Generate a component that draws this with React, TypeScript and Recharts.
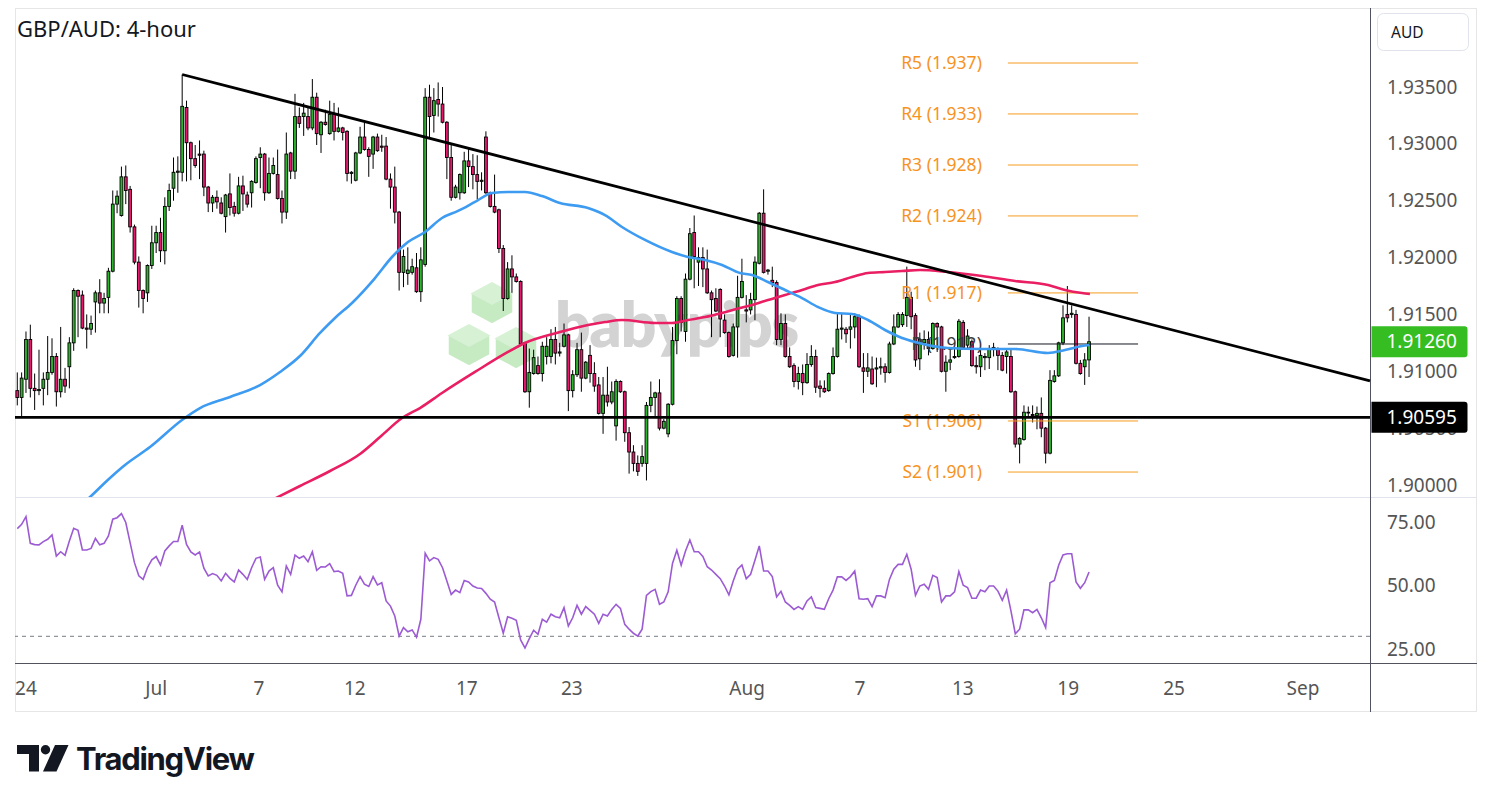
import React from 'react';
import { ComposedChart, Bar, Line, XAxis, YAxis, ReferenceLine } from 'recharts';

const FONT = "'Noto Sans', 'DejaVu Sans', sans-serif";
const UP = '#2cb52c';
const DOWN = '#e8186d';

// ---- GBP/AUD 4-hour candles ----
const opens = [
  1.9083,1.9077,1.9093,1.9128,1.9085,1.9083,1.9085,1.9093,1.9099,1.9113,
  1.9082,1.9093,1.9104,1.9125,1.9171,1.9167,1.9138,1.9137,1.9161,1.9169,
  1.9160,1.9165,1.9188,1.9247,1.9237,1.9271,1.9260,1.9227,1.9196,1.9171,
  1.9169,1.9193,1.9213,1.9222,1.9206,1.9245,1.9261,1.9275,1.9275,1.9332,
  1.9301,1.9287,1.9291,1.9291,1.9262,1.9248,1.9253,1.9248,1.9236,1.9256,
  1.9245,1.9239,1.9263,1.9255,1.9257,1.9266,1.9288,1.9291,1.9257,1.9274,
  1.9273,1.9252,1.9240,1.9292,1.9276,1.9324,1.9324,1.9324,1.9314,1.9341,
  1.9308,1.9319,1.9309,1.9326,1.9311,1.9314,1.9311,1.9274,1.9268,1.9292,
  1.9306,1.9295,1.9291,1.9306,1.9298,1.9298,1.9269,1.9262,1.9240,1.9187,
  1.9186,1.9187,1.9191,1.9170,1.9194,1.9341,1.9325,1.9339,1.9335,1.9319,
  1.9288,1.9253,1.9257,1.9257,1.9285,1.9280,1.9273,1.9267,1.9306,1.9257,
  1.9245,1.9242,1.9208,1.9164,1.9190,1.9183,1.9179,1.9125,1.9082,1.9098,
  1.9105,1.9098,1.9113,1.9113,1.9128,1.9116,1.9122,1.9132,1.9083,1.9097,
  1.9119,1.9094,1.9114,1.9098,1.9088,1.9063,1.9079,1.9073,1.9052,1.9091,
  1.9082,1.9046,1.9029,1.9019,1.9019,1.9019,1.9070,1.9077,1.9081,1.9050,
  1.9045,1.9071,1.9127,1.9164,1.9135,1.9181,1.9222,1.9196,1.9200,1.9190,
  1.9169,1.9164,1.9172,1.9145,1.9134,1.9114,1.9139,1.9165,1.9154,1.9154,
  1.9163,1.9195,1.9239,1.9188,1.9180,1.9178,1.9128,1.9142,1.9113,1.9105,
  1.9091,1.9098,1.9090,1.9106,1.9113,1.9087,1.9085,1.9083,1.9098,1.9113,
  1.9137,1.9137,1.9137,1.9139,1.9148,1.9103,1.9100,1.9102,1.9102,1.9103,
  1.9104,1.9099,1.9124,1.9139,1.9141,1.9149,1.9165,1.9149,1.9111,1.9125,
  1.9128,1.9120,1.9142,1.9139,1.9100,1.9108,1.9112,1.9113,1.9143,1.9123,
  1.9126,1.9105,1.9104,1.9112,1.9112,1.9120,1.9120,1.9114,1.9113,1.9113,
  1.9082,1.9036,1.9040,1.9064,1.9062,1.9061,1.9063,1.9050,1.9028,1.9091,
  1.9096,1.9125,1.9150,1.9150,1.9150,1.9107,1.9104,1.9110,
];
const highs = [
  1.9099,1.9099,1.9135,1.9141,1.9098,1.9119,1.9099,1.9131,1.9129,1.9116,
  1.9139,1.9103,1.9130,1.9173,1.9172,1.9171,1.9150,1.9149,1.9171,1.9181,
  1.9169,1.9191,1.9259,1.9259,1.9280,1.9281,1.9263,1.9229,1.9201,1.9172,
  1.9194,1.9228,1.9228,1.9235,1.9253,1.9265,1.9288,1.9289,1.9361,1.9338,
  1.9302,1.9299,1.9303,1.9294,1.9263,1.9255,1.9259,1.9253,1.9256,1.9274,
  1.9249,1.9271,1.9272,1.9258,1.9268,1.9289,1.9297,1.9292,1.9288,1.9288,
  1.9295,1.9259,1.9310,1.9293,1.9344,1.9332,1.9336,1.9332,1.9357,1.9345,
  1.9320,1.9330,1.9338,1.9336,1.9332,1.9315,1.9312,1.9276,1.9293,1.9315,
  1.9319,1.9297,1.9307,1.9309,1.9308,1.9306,1.9274,1.9280,1.9241,1.9207,
  1.9209,1.9199,1.9204,1.9209,1.9349,1.9352,1.9349,1.9354,1.9350,1.9320,
  1.9300,1.9264,1.9274,1.9293,1.9297,1.9291,1.9290,1.9275,1.9311,1.9258,
  1.9273,1.9243,1.9211,1.9196,1.9202,1.9186,1.9180,1.9126,1.9120,1.9119,
  1.9113,1.9126,1.9130,1.9137,1.9139,1.9125,1.9142,1.9133,1.9101,1.9125,
  1.9134,1.9109,1.9123,1.9108,1.9095,1.9095,1.9104,1.9091,1.9093,1.9092,
  1.9083,1.9051,1.9035,1.9026,1.9035,1.9073,1.9091,1.9082,1.9093,1.9058,
  1.9072,1.9139,1.9166,1.9166,1.9186,1.9226,1.9237,1.9209,1.9209,1.9207,
  1.9171,1.9173,1.9173,1.9150,1.9135,1.9142,1.9184,1.9199,1.9167,1.9169,
  1.9201,1.9240,1.9260,1.9190,1.9192,1.9180,1.9151,1.9150,1.9121,1.9107,
  1.9104,1.9106,1.9116,1.9123,1.9119,1.9092,1.9092,1.9099,1.9121,1.9151,
  1.9151,1.9139,1.9151,1.9151,1.9150,1.9116,1.9116,1.9113,1.9112,1.9112,
  1.9107,1.9126,1.9150,1.9152,1.9152,1.9192,1.9170,1.9151,1.9134,1.9136,
  1.9135,1.9143,1.9143,1.9140,1.9114,1.9119,1.9120,1.9146,1.9145,1.9137,
  1.9128,1.9113,1.9119,1.9116,1.9123,1.9125,1.9121,1.9117,1.9120,1.9119,
  1.9083,1.9042,1.9070,1.9069,1.9070,1.9069,1.9077,1.9051,1.9101,1.9101,
  1.9126,1.9158,1.9175,1.9158,1.9154,1.9110,1.9116,1.9148,
];
const lows = [
  1.9070,1.9059,1.9081,1.9077,1.9066,1.9079,1.9070,1.9079,1.9097,1.9069,
  1.9077,1.9081,1.9085,1.9118,1.9130,1.9137,1.9120,1.9132,1.9134,1.9151,
  1.9151,1.9151,1.9187,1.9239,1.9236,1.9247,1.9222,1.9194,1.9156,1.9151,
  1.9161,1.9190,1.9204,1.9196,1.9194,1.9241,1.9250,1.9257,1.9267,1.9267,
  1.9268,1.9279,1.9269,1.9254,1.9240,1.9240,1.9243,1.9238,1.9222,1.9237,
  1.9236,1.9238,1.9241,1.9244,1.9244,1.9265,1.9261,1.9250,1.9256,1.9273,
  1.9251,1.9230,1.9234,1.9269,1.9269,1.9314,1.9307,1.9312,1.9312,1.9299,
  1.9292,1.9316,1.9308,1.9303,1.9310,1.9303,1.9267,1.9265,1.9267,1.9291,
  1.9294,1.9271,1.9278,1.9293,1.9293,1.9268,1.9243,1.9230,1.9171,1.9174,
  1.9176,1.9185,1.9169,1.9161,1.9192,1.9306,1.9310,1.9324,1.9318,1.9269,
  1.9250,1.9252,1.9251,1.9256,1.9262,1.9260,1.9251,1.9259,1.9256,1.9244,
  1.9239,1.9204,1.9153,1.9163,1.9169,1.9178,1.9123,1.9081,1.9068,1.9097,
  1.9097,1.9091,1.9106,1.9107,1.9106,1.9113,1.9121,1.9065,1.9077,1.9095,
  1.9082,1.9093,1.9090,1.9082,1.9062,1.9045,1.9069,1.9071,1.9039,1.9081,
  1.9038,1.9010,1.9012,1.9008,1.9016,1.9004,1.9064,1.9059,1.9048,1.9049,
  1.9042,1.9070,1.9115,1.9135,1.9126,1.9180,1.9173,1.9175,1.9174,1.9168,
  1.9130,1.9152,1.9130,1.9133,1.9112,1.9113,1.9112,1.9164,1.9143,1.9150,
  1.9145,1.9194,1.9186,1.9185,1.9174,1.9123,1.9123,1.9112,1.9103,1.9086,
  1.9084,1.9079,1.9089,1.9104,1.9081,1.9077,1.9081,1.9082,1.9097,1.9112,
  1.9128,1.9125,1.9120,1.9129,1.9103,1.9081,1.9095,1.9088,1.9086,1.9097,
  1.9090,1.9098,1.9123,1.9138,1.9139,1.9139,1.9137,1.9104,1.9101,1.9119,
  1.9114,1.9119,1.9117,1.9099,1.9082,1.9101,1.9111,1.9112,1.9120,1.9119,
  1.9104,1.9098,1.9095,1.9101,1.9102,1.9113,1.9101,1.9100,1.9098,1.9081,
  1.9033,1.9019,1.9039,1.9059,1.9055,1.9049,1.9042,1.9019,1.9027,1.9090,
  1.9095,1.9123,1.9143,1.9147,1.9106,1.9097,1.9088,1.9095,
];
const closes = [
  1.9077,1.9094,1.9128,1.9085,1.9083,1.9084,1.9093,1.9099,1.9113,1.9082,
  1.9093,1.9087,1.9125,1.9171,1.9166,1.9138,1.9137,1.9142,1.9169,1.9160,
  1.9164,1.9188,1.9247,1.9254,1.9271,1.9259,1.9227,1.9196,1.9171,1.9164,
  1.9193,1.9213,1.9222,1.9206,1.9245,1.9259,1.9275,1.9276,1.9333,1.9301,
  1.9287,1.9281,1.9290,1.9262,1.9248,1.9253,1.9249,1.9239,1.9255,1.9244,
  1.9239,1.9263,1.9256,1.9247,1.9267,1.9287,1.9291,1.9257,1.9274,1.9281,
  1.9252,1.9240,1.9291,1.9276,1.9324,1.9318,1.9327,1.9314,1.9341,1.9309,
  1.9319,1.9317,1.9326,1.9311,1.9314,1.9310,1.9274,1.9275,1.9292,1.9306,
  1.9295,1.9289,1.9306,1.9294,1.9297,1.9269,1.9262,1.9240,1.9187,1.9201,
  1.9189,1.9192,1.9170,1.9198,1.9341,1.9324,1.9338,1.9335,1.9319,1.9288,
  1.9253,1.9262,1.9273,1.9285,1.9280,1.9273,1.9267,1.9268,1.9257,1.9245,
  1.9240,1.9208,1.9164,1.9190,1.9183,1.9179,1.9124,1.9082,1.9099,1.9112,
  1.9098,1.9122,1.9122,1.9128,1.9116,1.9117,1.9132,1.9083,1.9097,1.9119,
  1.9094,1.9108,1.9098,1.9087,1.9063,1.9079,1.9073,1.9082,1.9091,1.9082,
  1.9046,1.9029,1.9019,1.9012,1.9025,1.9070,1.9077,1.9081,1.9050,1.9056,
  1.9071,1.9127,1.9164,1.9143,1.9181,1.9221,1.9201,1.9200,1.9190,1.9169,
  1.9163,1.9153,1.9146,1.9134,1.9113,1.9139,1.9165,1.9179,1.9153,1.9163,
  1.9196,1.9239,1.9187,1.9189,1.9178,1.9128,1.9142,1.9113,1.9104,1.9091,
  1.9098,1.9090,1.9106,1.9113,1.9086,1.9085,1.9082,1.9098,1.9113,1.9137,
  1.9138,1.9133,1.9139,1.9148,1.9104,1.9100,1.9103,1.9089,1.9103,1.9104,
  1.9099,1.9124,1.9139,1.9150,1.9150,1.9165,1.9148,1.9110,1.9128,1.9128,
  1.9120,1.9142,1.9139,1.9100,1.9108,1.9110,1.9113,1.9144,1.9121,1.9131,
  1.9105,1.9104,1.9114,1.9113,1.9120,1.9121,1.9114,1.9101,1.9117,1.9082,
  1.9036,1.9041,1.9064,1.9064,1.9061,1.9063,1.9050,1.9028,1.9092,1.9096,
  1.9125,1.9147,1.9147,1.9151,1.9107,1.9098,1.9110,1.9126,
];

// ---- RSI (one value per candle) ----
const rsiValues = [
  72.4,74.1,77.1,66.6,66.1,66.0,67.3,68.2,69.9,61.6,
  63.3,61.9,67.5,72.5,71.7,64.0,64.0,64.6,68.5,66.0,
  66.6,69.5,76.1,76.7,78.3,74.8,66.9,59.0,53.8,52.4,
  57.0,60.1,61.4,58.1,63.6,65.6,67.3,67.3,73.7,66.2,
  63.2,62.0,63.2,56.8,53.8,54.7,54.0,51.8,54.8,52.8,
  51.4,56.1,54.4,52.4,57.0,60.7,61.2,52.4,55.7,57.0,
  50.1,47.5,57.7,54.4,62.0,60.7,61.6,59.4,63.3,56.0,
  57.4,57.3,58.6,55.5,55.7,54.8,45.9,46.1,50.1,53.5,
  50.5,49.6,53.5,50.2,51.1,43.9,41.9,38.0,30.1,33.4,
  31.8,32.5,29.7,36.7,62.7,59.7,61.0,60.3,57.0,51.8,
  46.5,48.2,47.2,52.0,51.4,49.8,49.0,48.8,46.9,44.6,
  43.5,37.3,31.2,37.7,37.1,36.3,28.6,25.4,29.1,32.4,
  30.8,36.7,35.6,38.7,
  37.7,37.3,41.3,34.1,37.3,42.2,38.7,41.7,40.2,38.7,
  35.1,38.7,38.0,40.6,42.6,41.0,34.7,32.8,31.2,30.1,
  32.8,46.1,47.6,48.5,42.6,43.5,47.5,58.7,63.9,58.0,
  63.6,67.9,63.3,63.3,61.4,57.4,56.1,54.4,52.7,49.8,
  46.3,51.8,56.4,58.1,52.7,54.4,59.9,65.6,55.7,55.7,
  53.5,45.5,47.7,43.5,42.2,40.6,41.7,40.6,43.9,45.5,
  41.3,41.0,40.6,44.8,48.2,53.4,53.4,52.0,53.5,55.7,
  44.8,44.6,44.8,41.7,45.9,45.9,45.2,52.4,56.4,58.3,
  58.3,62.3,56.4,46.1,49.8,50.5,48.5,54.0,53.1,43.5,
  45.9,45.9,47.5,55.5,50.1,49.2,45.0,45.0,48.2,47.5,
  49.8,49.8,47.8,44.2,48.2,40.0,31.0,32.8,40.4,40.4,
  39.3,40.6,37.3,33.4,51.1,52.0,58.0,62.0,62.5,62.5,
  51.4,48.9,51.1,55.3,
];

// ---- Moving averages (positions in candle index units, values in price) ----
const blueMaIndex = [13.3,16.75,21.36,24.82,30.58,37.96,42.11,49.02,55.94,60.55,65.15,69.77,73.22,77.14,82.44,86.36,90.04,93.96,97.88,101.57,105.48,109.4,113.09,117.0,120.92,125.07,131.52,135.44,139.36,144.66,150.88,154.57,158.49,162.41,166.56,169.33,173.0,176.93,180.85,184.53,188.45,192.37,196.06,199.98,203.9,206.89,214.5,222.33,229.94,237.54,241.46,245.38,247.0];
const blueMaValues = [1.89771,1.89894,1.90062,1.90176,1.90334,1.90572,1.90677,1.90774,1.90879,1.90994,1.91134,1.91337,1.91469,1.91601,1.91820,1.92005,1.92137,1.92225,1.92348,1.92410,1.92489,1.92568,1.92577,1.92577,1.92541,1.92480,1.92436,1.92374,1.92269,1.92155,1.92049,1.92005,1.91979,1.91935,1.91864,1.91847,1.91785,1.91715,1.91644,1.91565,1.91513,1.91504,1.91451,1.91363,1.91293,1.91258,1.91205,1.91196,1.91196,1.91161,1.91187,1.91222,1.91231];
const pinkMaIndex = [58.7,65.15,72.07,78.98,83.59,88.66,92.81,97.88,105.48,113.09,117.0,125.07,131.52,135.44,139.36,146.97,150.88,154.57,158.49,162.41,166.56,169.33,173.0,176.93,180.85,184.53,188.45,192.37,196.06,199.98,203.9,208.05,214.5,222.33,229.94,237.54,241.46,245.38,247.2];
const pinkMaValues = [1.89868,1.89991,1.90123,1.90273,1.90422,1.90589,1.90677,1.90809,1.90994,1.91170,1.91249,1.91345,1.91407,1.91433,1.91451,1.91425,1.91425,1.91451,1.91477,1.91513,1.91557,1.91583,1.91627,1.91671,1.91715,1.91759,1.91785,1.91829,1.91864,1.91873,1.91882,1.91891,1.91873,1.91838,1.91794,1.91759,1.91715,1.91688,1.91680];

// ---- Drawings ----
const trendIndex = [38, 311.75];
const trendValues = [1.9361, 1.90915];
const supportLevel = 1.90595;
const pivotNames = ['R5', 'R4', 'R3', 'R2', 'R1', 'P', 'S1', 'S2'];
const pivotLevels = [1.93711, 1.93263, 1.92814, 1.92366, 1.91689, 1.9124, 1.90563, 1.90114];
const pivotStart = 228.3;
const pivotEnd = 258.3;

// ---- Axes ----
const priceTicks = [1.9, 1.905, 1.91, 1.915, 1.92, 1.925, 1.93, 1.935];
const rsiTicks = [25, 50, 75];
const rsiLower = 30;
const dateTickIndex = [2.0, 32.0, 55.7, 77.8, 103.6, 127.8, 168.2, 194.2, 217.9, 242.2, 266.6, 296.3];
const dateTickLabels = ['24', 'Jul', '7', '12', '17', '23', 'Aug', '7', '13', '19', '25', 'Sep'];
const X_DOMAIN: [number, number] = [-0.53, 311.75];
const PRICE_DOMAIN: [number, number] = [1.898945, 1.941947];
const RSI_DOMAIN: [number, number] = [19.49, 84.84];

const Candle = (props: any) => {
  const { x, y, width, height, payload } = props;
  if (payload == null || x == null || y == null) return null;
  const top = Math.min(y, y + height);
  const h = Math.abs(height);
  const span = payload.high - payload.low;
  const toY = (v: number) => (span > 0 ? top + ((payload.high - v) / span) * h : top);
  const cx = x + width / 2;
  const yo = toY(payload.open);
  const yc = toY(payload.close);
  const bt = Math.min(yo, yc);
  const bh = Math.max(Math.abs(yo - yc), 0.8);
  const up = payload.close >= payload.open;
  return (
    <g>
      <line x1={cx} x2={cx} y1={top} y2={top + h} stroke="#000" strokeWidth={1} />
      <rect x={cx - 1.4} y={bt} width={2.8} height={bh} fill={up ? UP : DOWN} stroke="#000" strokeWidth={0.9} />
    </g>
  );
};

const PriceTick = (props: any) => {
  const { y, payload } = props;
  return (
    <text x={1372} y={y + 6.6} fill="#555" fontSize={19} fontFamily={FONT}>
      {Number(payload.value).toFixed(5)}
    </text>
  );
};

const RsiTick = (props: any) => {
  const { y, payload } = props;
  return (
    <text x={1372} y={y + 6.6} fill="#555" fontSize={19} fontFamily={FONT}>
      {Number(payload.value).toFixed(2)}
    </text>
  );
};

const DateTick = (props: any) => {
  const { x, payload } = props;
  const k = dateTickIndex.indexOf(payload.value);
  return (
    <text x={x} y={198} textAnchor="middle" fill="#555" fontSize={19} fontFamily={FONT}>
      {dateTickLabels[k]}
    </text>
  );
};

const PriceBadge = (props: any) => {
  const { viewBox, text, bg } = props;
  if (!viewBox) return null;
  const x0 = viewBox.x + viewBox.width + 1.5;
  const yc = viewBox.y;
  return (
    <g>
      <path d={`M${x0},${yc - 15.5} H${x0 + 93} a3,3 0 0 1 3,3 V${yc + 12.5} a3,3 0 0 1 -3,3 H${x0} Z`} fill={bg} />
      <text x={x0 + 15} y={yc + 6.6} fill="#fff" fontSize={19} fontFamily={FONT}>{text}</text>
    </g>
  );
};

const PivotLabel = (props: any) => {
  const { viewBox, text, color } = props;
  if (!viewBox) return null;
  return (
    <text x={viewBox.x - 26} y={viewBox.y + 6.2} textAnchor="end" fill={color} fontSize={17.5} fontFamily={FONT}>
      {text}
    </text>
  );
};

const cube = (cx: number, top: number, key: string) => {
  const w = 21.5;
  const side = `${cx},${top} ${cx + w},${top + 11.5} ${cx + w},${top + 31} ${cx},${top + 42.5} ${cx - w},${top + 31} ${cx - w},${top + 11.5}`;
  const face = `${cx},${top} ${cx + w},${top + 11.5} ${cx},${top + 23} ${cx - w},${top + 11.5}`;
  return (
    <g key={key}>
      <polygon points={side} fill="#c6eac2" stroke="#fff" strokeWidth={2.5} />
      <polygon points={face} fill="#d6f1d3" />
    </g>
  );
};

export default function App() {
  const candles = opens.map((o, i) => ({
    i,
    open: o,
    high: highs[i],
    low: lows[i],
    close: closes[i],
    range: [lows[i], highs[i]],
  }));
  const rsiData = rsiValues.map((v, i) => ({ i, rsi: v }));
  const blueMa = blueMaIndex.map((x, k) => ({ i: x, v: blueMaValues[k] }));
  const pinkMa = pinkMaIndex.map((x, k) => ({ i: x, v: pinkMaValues[k] }));
  const lastClose = closes[closes.length - 1];

  return (
    <div style={{ position: 'absolute', left: 0, top: 0, width: 1491, height: 802, background: '#fff', overflow: 'hidden', fontFamily: FONT }}>
      <svg width={1491} height={802} style={{ position: 'absolute', left: 0, top: 0 }}>
        <rect x={15.5} y={8.5} width={1461} height={703} fill="none" stroke="#e6e6e6" />
        <line x1={15} x2={1477} y1={497.5} y2={497.5} stroke="#e0e3eb" />
        <line x1={15} x2={1477} y1={663.5} y2={663.5} stroke="#50535e" />
        <line x1={1370.5} x2={1370.5} y1={8} y2={712} stroke="#50535e" />
        <rect x={1377.5} y={13.5} width={91} height={37} rx={6} fill="#fff" stroke="#e0e3eb" />
        <text x={1391} y={37.5} fontSize={15.5} fill="#131722" fontFamily={FONT}>AUD</text>
        <text x={17} y={37} fontSize={22} fill="#131722" fontFamily={FONT}>GBP/AUD: 4-hour</text>
        {/* watermark */}
        {cube(492, 282, 'c1')}
        {cube(469, 324, 'c2')}
        {cube(516, 327, 'c3')}
        <text x={555} y={347} fontSize={62} fontWeight={800} fill="#d3d3d3" fontFamily="Lato, 'Noto Sans', sans-serif" letterSpacing={-1}>babypips</text>
        {/* TradingView logo */}
        <path d="M17,745 H39 V771.5 H29 V754 H17 Z" fill="#131722" />
        <circle cx={45.5} cy={749.7} r={4.7} fill="#131722" />
        <polygon points="55,745 68.5,745 56.5,771.5 43,771.5" fill="#131722" />
        <text x={76} y={770} fontSize={31} fontWeight={700} fill="#131722" fontFamily="Inter, 'Noto Sans', sans-serif" letterSpacing={-1.3}>TradingView</text>
      </svg>

      <div style={{ position: 'absolute', left: 15, top: 8 }}>
        <ComposedChart width={1462} height={489} data={candles} margin={{ top: 0, right: 0, bottom: 0, left: 0 }}>
          <XAxis dataKey="i" type="number" domain={X_DOMAIN} allowDataOverflow hide />
          <YAxis
            orientation="right"
            width={107}
            domain={PRICE_DOMAIN}
            allowDataOverflow
            ticks={priceTicks}
            interval={0}
            axisLine={false}
            tickLine={false}
            tick={<PriceTick />}
          />
          {pivotLevels.map((lv, k) => (
            <ReferenceLine
              key={pivotNames[k]}
              segment={[{ x: pivotStart, y: lv }, { x: pivotEnd, y: lv }]}
              stroke={pivotNames[k] === 'P' ? '#131722' : '#f59c1f'}
              strokeWidth={1}
              label={<PivotLabel text={`${pivotNames[k]} (${lv.toFixed(3)})`} color={pivotNames[k] === 'P' ? '#3a3a3a' : '#f7931e'} />}
            />
          ))}
          <Bar dataKey="range" shape={<Candle />} barSize={4} isAnimationActive={false} />
          <Line data={pinkMa} dataKey="v" type="monotone" stroke="#e91e63" strokeWidth={2.6} dot={false} activeDot={false} isAnimationActive={false} />
          <Line data={blueMa} dataKey="v" type="monotone" stroke="#3d9bf2" strokeWidth={2.6} dot={false} activeDot={false} isAnimationActive={false} />
          <ReferenceLine
            segment={[{ x: trendIndex[0], y: trendValues[0] }, { x: trendIndex[1], y: trendValues[1] }]}
            stroke="#000"
            strokeWidth={2.8}
          />
          <ReferenceLine y={supportLevel} stroke="#000" strokeWidth={2.8} />
        </ComposedChart>
      </div>

      {/* price badges drawn on top of the axis labels */}
      <div style={{ position: 'absolute', left: 15, top: 8, pointerEvents: 'none' }}>
        <ComposedChart width={1462} height={489} data={candles} margin={{ top: 0, right: 0, bottom: 0, left: 0 }}>
          <XAxis dataKey="i" type="number" domain={X_DOMAIN} allowDataOverflow hide />
          <YAxis orientation="right" width={107} domain={PRICE_DOMAIN} allowDataOverflow axisLine={false} tickLine={false} tick={false} />
          <ReferenceLine y={supportLevel} stroke="none" label={<PriceBadge text={supportLevel.toFixed(5)} bg="#000" />} />
          <ReferenceLine y={lastClose} stroke="none" label={<PriceBadge text={lastClose.toFixed(5)} bg="#35bd22" />} />
        </ComposedChart>
      </div>

      <div style={{ position: 'absolute', left: 15, top: 497 }}>
        <ComposedChart width={1462} height={215} data={rsiData} margin={{ top: 0, right: 0, bottom: 0, left: 0 }}>
          <XAxis
            dataKey="i"
            type="number"
            domain={X_DOMAIN}
            allowDataOverflow
            ticks={dateTickIndex}
            interval={0}
            height={49}
            axisLine={false}
            tickLine={false}
            tick={<DateTick />}
          />
          <YAxis
            orientation="right"
            width={107}
            domain={RSI_DOMAIN}
            allowDataOverflow
            ticks={rsiTicks}
            interval={0}
            axisLine={false}
            tickLine={false}
            tick={<RsiTick />}
          />
          <ReferenceLine y={rsiLower} stroke="#787b86" strokeWidth={1} strokeDasharray="4 4" />
          <Line dataKey="rsi" type="linear" stroke="#9c5bd3" strokeWidth={1.6} dot={false} activeDot={false} isAnimationActive={false} />
        </ComposedChart>
      </div>
    </div>
  );
}
